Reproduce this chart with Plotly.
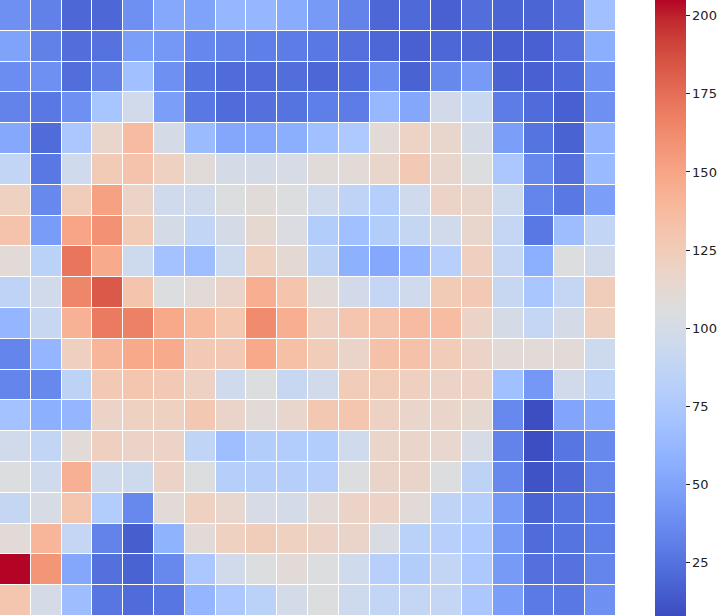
import plotly.graph_objects as go

rows = list(range(20))
cols = list(range(20))

r00 = [40, 32, 20, 20, 40, 53, 50, 62, 62, 55, 45, 33, 20, 21, 17, 23, 19, 19, 24, 68]
r01 = [50, 32, 23, 25, 47, 44, 35, 33, 31, 30, 28, 24, 20, 17, 20, 20, 17, 17, 25, 56]
r02 = [38, 40, 23, 32, 68, 40, 26, 22, 22, 23, 20, 22, 39, 18, 36, 45, 18, 17, 21, 41]
r03 = [33, 28, 40, 72, 97, 47, 28, 22, 24, 26, 31, 30, 63, 52, 98, 92, 30, 22, 17, 40]
r04 = [53, 22, 74, 115, 137, 100, 65, 52, 53, 56, 68, 76, 110, 119, 115, 100, 47, 26, 18, 60]
r05 = [88, 28, 96, 126, 132, 121, 109, 100, 100, 101, 109, 110, 115, 127, 115, 106, 74, 36, 24, 64]
r06 = [121, 36, 124, 152, 118, 96, 96, 105, 109, 106, 96, 86, 80, 96, 118, 115, 95, 34, 28, 47]
r07 = [132, 46, 150, 160, 126, 100, 88, 100, 113, 104, 79, 68, 79, 90, 97, 115, 89, 28, 66, 88]
r08 = [110, 83, 172, 147, 95, 70, 67, 95, 121, 112, 85, 58, 53, 61, 81, 122, 89, 57, 105, 97]
r09 = [86, 97, 165, 183, 131, 106, 110, 117, 145, 131, 110, 98, 89, 96, 126, 127, 91, 73, 89, 124]
r10 = [61, 91, 143, 170, 167, 148, 138, 129, 163, 145, 122, 130, 132, 137, 136, 118, 100, 89, 100, 121]
r11 = [34, 61, 122, 141, 148, 147, 127, 127, 148, 134, 125, 117, 133, 133, 125, 118, 110, 110, 110, 95]
r12 = [34, 36, 85, 127, 130, 127, 120, 96, 105, 91, 97, 125, 125, 122, 118, 118, 68, 44, 97, 87]
r13 = [70, 57, 61, 118, 121, 121, 128, 117, 110, 115, 128, 130, 120, 116, 116, 113, 36, 9, 51, 55]
r14 = [97, 88, 110, 122, 118, 118, 87, 67, 79, 78, 78, 96, 116, 116, 114, 101, 33, 9, 27, 36]
r15 = [105, 96, 144, 96, 95, 118, 106, 80, 80, 80, 81, 105, 117, 117, 105, 85, 36, 11, 20, 34]
r16 = [90, 102, 130, 78, 36, 110, 121, 114, 101, 99, 110, 118, 118, 110, 86, 80, 45, 18, 26, 31]
r17 = [110, 141, 89, 33, 16, 59, 110, 121, 124, 121, 118, 117, 103, 83, 81, 76, 45, 22, 26, 31]
r18 = [205, 158, 52, 24, 18, 36, 74, 97, 105, 110, 106, 96, 81, 79, 88, 75, 45, 24, 25, 34]
r19 = [130, 100, 66, 27, 22, 27, 61, 75, 83, 99, 105, 95, 88, 89, 89, 74, 47, 29, 28, 40]

z = [r00, r01, r02, r03, r04, r05, r06, r07, r08, r09,
     r10, r11, r12, r13, r14, r15, r16, r17, r18, r19]

tick_vals = [25, 50, 75, 100, 125, 150, 175, 200]
zmin_val = 8
zmax_val = 205

coolwarm_rgb = [
    (59, 76, 192), (68, 90, 204), (77, 104, 215), (87, 117, 225), (98, 130, 234),
    (108, 142, 241), (119, 154, 247), (130, 165, 251), (141, 176, 254), (152, 185, 255),
    (163, 194, 255), (174, 201, 253), (184, 208, 249), (194, 213, 244), (204, 217, 238),
    (213, 219, 230), (221, 221, 221), (229, 216, 209), (236, 211, 197), (241, 204, 185),
    (245, 196, 173), (247, 187, 160), (247, 177, 148), (247, 166, 135), (244, 154, 123),
    (241, 141, 111), (236, 127, 99), (229, 112, 88), (222, 96, 77), (213, 80, 66),
    (203, 62, 56), (192, 40, 47), (180, 4, 38)]
n = len(coolwarm_rgb) - 1
colorscale = [[i / n, "rgb(%d,%d,%d)" % c] for i, c in enumerate(coolwarm_rgb)]

fig = go.Figure(go.Heatmap(
    z=z, x=cols, y=rows,
    colorscale=colorscale, zmin=zmin_val, zmax=zmax_val,
    xgap=1, ygap=1,
    hoverongaps=False,
    colorbar=dict(
        x=655 / 721, xanchor="left", xref="paper",
        y=0.5, yanchor="middle", len=1, lenmode="fraction",
        thickness=31, thicknessmode="pixels",
        outlinewidth=0, ypad=0, xpad=0,
        tickvals=tick_vals, ticks="outside", ticklen=4, tickwidth=1,
        tickcolor="#222", tickfont=dict(family="DejaVu Sans", size=13, color="#222"),
    ),
))

fig.update_layout(
    width=721, height=616,
    margin=dict(l=0, r=0, t=0, b=0, autoexpand=False),
    paper_bgcolor="white", plot_bgcolor="white",
    xaxis=dict(domain=[0, 616 / 721], visible=False, showgrid=False, zeroline=False,
               range=[-0.5, 19.5]),
    yaxis=dict(visible=False, showgrid=False, zeroline=False, range=[19.5, -0.5]),
)

fig.write_html(
    "out.html",
    config={"displayModeBar": False},
    post_script="document.body.style.margin='0';document.body.style.overflow='hidden';",
)
